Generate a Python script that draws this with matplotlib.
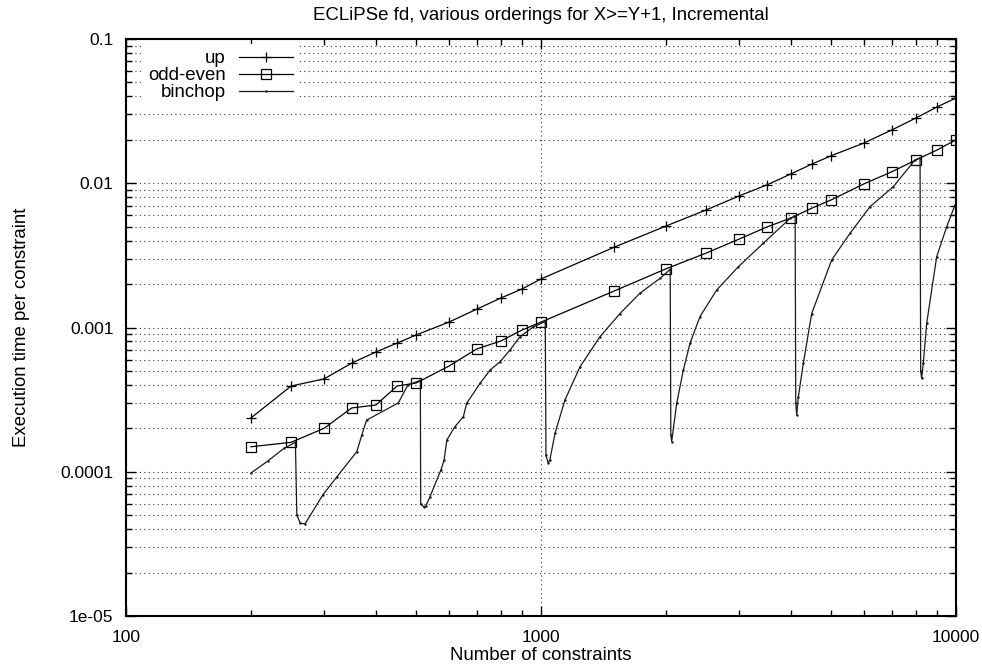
import matplotlib
matplotlib.use("Agg")
import matplotlib.pyplot as plt
from matplotlib.ticker import FixedLocator, FixedFormatter, NullFormatter

plt.rcParams['font.family'] = ['Liberation Sans', 'DejaVu Sans']

# timings per constraint, ECLiPSe fd, X>=Y+1
n_steps = [200, 250, 300, 350, 400, 450, 500, 600, 700, 800, 900, 1000,
           1500, 2000, 2500, 3000, 3500, 4000, 4500, 5000, 6000, 7000,
           8000, 9000, 10000]
up = [2.36e-4, 3.93e-4, 4.4e-4, 5.67e-4, 6.76e-4, 7.8e-4, 8.87e-4, 1.09e-3,
      1.34e-3, 1.6e-3, 1.85e-3, 2.17e-3, 3.6e-3, 5.05e-3, 6.53e-3, 8.16e-3,
      9.73e-3, 1.16e-2, 1.36e-2, 1.55e-2, 1.9e-2, 2.34e-2, 2.83e-2, 3.38e-2,
      3.9e-2]
odd_even = [1.49e-4, 1.6e-4, 2.0e-4, 2.77e-4, 2.9e-4, 3.93e-4, 4.12e-4,
            5.4e-4, 7.1e-4, 8.06e-4, 9.6e-4, 1.09e-3, 1.79e-3, 2.55e-3,
            3.28e-3, 4.1e-3, 4.97e-3, 5.74e-3, 6.73e-3, 7.66e-3, 9.9e-3,
            1.2e-2, 1.45e-2, 1.7e-2, 2.0e-2]

binchop_n = [200, 220, 240, 256,
             258, 263, 270, 298, 322, 360, 370, 380, 453, 478, 512,
             513, 522, 528, 540, 574, 584, 593, 620, 650, 662, 713, 754, 797,
             842, 890, 958, 1024,
             1028, 1041, 1050, 1081, 1142, 1242, 1387, 1550, 1732, 1935, 2048,
             2055, 2065, 2123, 2203, 2286, 2416, 2651, 2990, 3433, 3981, 4096,
             4110, 4132, 4169, 4287, 4490, 5017, 5555, 6206, 7063, 7966, 8192,
             8220, 8265, 8340, 8500, 8985, 9498, 9945]
binchop = [9.8e-5, 1.19e-4, 1.45e-4, 1.6e-4,
           5.0e-5, 4.4e-5, 4.35e-5, 6.9e-5, 9.2e-5, 1.38e-4, 1.8e-4, 2.28e-4,
           3.0e-4, 4.0e-4, 4.3e-4,
           6.0e-5, 5.7e-5, 5.8e-5, 6.7e-5, 1.03e-4, 1.2e-4, 1.66e-4, 2.05e-4,
           2.41e-4, 2.98e-4, 4.1e-4, 5.07e-4, 5.79e-4, 6.98e-4, 8.63e-4,
           1.01e-3, 1.1e-3,
           1.3e-4, 1.15e-4, 1.2e-4, 1.85e-4, 3.14e-4, 5.35e-4, 8.63e-4,
           1.25e-3, 1.73e-3, 2.19e-3, 2.53e-3,
           1.8e-4, 1.62e-4, 2.98e-4, 5.07e-4, 7.77e-4, 1.19e-3, 1.82e-3,
           2.64e-3, 3.84e-3, 5.7e-3, 5.9e-3,
           3.0e-4, 2.47e-4, 3.3e-4, 5.65e-4, 1.25e-3, 2.94e-3, 4.5e-3, 6.88e-3,
           9.47e-3, 1.45e-2, 1.5e-2,
           5.0e-4, 4.44e-4, 5.65e-4, 1.07e-3, 3.1e-3, 5.0e-3, 7.06e-3]

x_ticks = [100, 1000, 10000]
x_labels = ['100', '1000', '10000']
y_ticks = [1e-5, 1e-4, 1e-3, 1e-2, 1e-1]
y_labels = ['1e-05', '0.0001', '0.001', '0.01', '0.1']

fs_tick = 12.5
fs = 13.4
fig = plt.figure(figsize=(9.82, 6.64), dpi=100)
ax = fig.add_axes([126 / 982, 48 / 664, 830 / 982, 577 / 664])
ax.set_xscale('log')
ax.set_yscale('log')
ax.set_xlim(100, 10000)
ax.set_ylim(1e-5, 0.1)

ax.plot(n_steps, up, color='black', lw=0.9, marker='+', ms=7, mew=0.9,
        label='up')
ax.plot(n_steps, odd_even, color='black', lw=0.9, marker='s', ms=7,
        mfc='none', mew=0.9, label='odd-even')
ax.plot(binchop_n, binchop, color='#1a1a1a', lw=0.9, marker='.', ms=1.5,
        label='binchop')

ax.xaxis.set_major_locator(FixedLocator(x_ticks))
ax.xaxis.set_major_formatter(FixedFormatter(x_labels))
ax.yaxis.set_major_locator(FixedLocator(y_ticks))
ax.yaxis.set_major_formatter(FixedFormatter(y_labels))
ax.xaxis.set_minor_formatter(NullFormatter())
ax.yaxis.set_minor_formatter(NullFormatter())

ax.tick_params(which='both', direction='in', top=True, right=True,
               labelsize=fs_tick, width=1)
ax.tick_params(which='major', length=7)
ax.tick_params(which='minor', length=4)
ax.tick_params(axis='x', pad=10)
ax.tick_params(axis='y', pad=9)

dots = dict(color='#333333', lw=0.8, ls=(0, (1, 3)))
ax.grid(True, which='major', axis='x', **dots)
ax.grid(True, which='both', axis='y', **dots)
ax.set_axisbelow(True)

for sp in ax.spines.values():
    sp.set_linewidth(1.5)

ax.set_title('ECLiPSe fd, various orderings for X>=Y+1, Incremental',
             fontsize=fs, pad=14)
ax.set_xlabel('Number of constraints', fontsize=fs, labelpad=1.5)
ax.set_ylabel('Execution time per constraint', fontsize=fs, labelpad=22)

leg = ax.legend(loc='upper right', bbox_to_anchor=(0.2085, 0.992),
                markerfirst=False, fontsize=fs, frameon=True,
                fancybox=False, borderaxespad=0, borderpad=0.35,
                handlelength=2.9, handletextpad=0.7, labelspacing=0.0)
leg.get_frame().set_facecolor('white')
leg.get_frame().set_edgecolor('none')
leg.get_frame().set_alpha(1)

fig.savefig('out.png', dpi=100)
